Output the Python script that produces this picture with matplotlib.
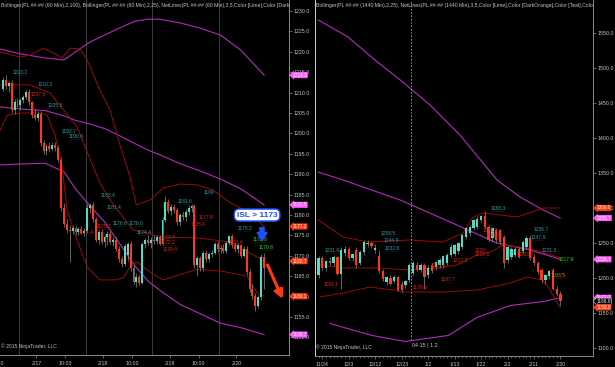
import numpy as np
import matplotlib
matplotlib.use('Agg')
import matplotlib.pyplot as plt
from matplotlib import transforms

plt.rcParams['font.family'] = ['Liberation Sans', 'DejaVu Sans']

# ---- 60 min bars (left panel) ----
h_open = [1211.0, 1213.2, 1211.6, 1212.4, 1205.8, 1207.8, 1207.0, 1208.2, 1209.0, 1210.2,
          1207.6, 1204.4, 1203.8, 1204.8, 1197.6, 1195.6, 1197.0, 1196.2, 1197.2, 1196.4,
          1193.6, 1181.8, 1177.8, 1176.4, 1176.0, 1176.8, 1175.8, 1176.6, 1175.6, 1176.2,
          1181.8, 1182.4, 1179.0, 1174.0, 1175.8, 1173.4, 1174.6, 1175.4, 1173.4, 1174.0,
          1171.8, 1169.2, 1168.0, 1170.2, 1172.8, 1167.0, 1163.6, 1164.8, 1163.4, 1172.8,
          1173.8, 1173.2, 1174.0, 1173.6, 1174.6, 1173.0, 1178.8, 1183.2, 1181.0, 1182.0,
          1181.2, 1178.2, 1180.0, 1179.4, 1180.8, 1181.8, 1182.2, 1167.8, 1169.4, 1167.0,
          1170.6, 1169.2, 1170.4, 1170.8, 1172.8, 1171.6, 1172.0, 1171.2, 1173.2, 1174.8,
          1172.6, 1171.6, 1172.6, 1170.0, 1171.8, 1166.0, 1161.8, 1160.2, 1157.8, 1159.8,
          1169.8]
h_high = [1213.8, 1214.2, 1212.8, 1213.0, 1208.4, 1208.6, 1208.8, 1209.4, 1210.6, 1210.8,
          1208.0, 1206.0, 1205.4, 1205.6, 1198.4, 1197.4, 1197.8, 1197.8, 1198.0, 1197.2,
          1194.2, 1183.0, 1179.0, 1177.6, 1177.4, 1177.2, 1177.0, 1177.4, 1176.8, 1182.6,
          1183.0, 1183.2, 1179.6, 1176.4, 1176.6, 1175.2, 1176.0, 1176.0, 1174.6, 1174.6,
          1172.4, 1170.0, 1173.0, 1173.4, 1173.6, 1167.8, 1165.8, 1165.6, 1173.4, 1174.4,
          1175.0, 1174.6, 1175.2, 1175.0, 1175.0, 1179.4, 1184.6, 1184.0, 1182.6, 1182.8,
          1181.8, 1180.6, 1181.0, 1181.4, 1182.4, 1182.6, 1182.6, 1170.0, 1170.0, 1171.2,
          1171.4, 1171.0, 1171.4, 1173.4, 1173.6, 1172.6, 1172.8, 1173.6, 1175.2, 1175.4,
          1173.4, 1173.2, 1173.0, 1172.4, 1172.4, 1166.8, 1163.0, 1161.0, 1160.4, 1170.4,
          1170.6]
h_low = [1210.4, 1211.0, 1210.2, 1205.0, 1204.8, 1206.6, 1205.8, 1207.4, 1208.4, 1207.0,
         1203.8, 1203.2, 1203.0, 1196.8, 1195.0, 1194.8, 1195.4, 1195.6, 1195.8, 1193.0,
         1181.0, 1177.0, 1175.6, 1168.5, 1175.4, 1175.2, 1175.0, 1175.4, 1174.8, 1175.8,
         1180.4, 1178.4, 1173.4, 1173.0, 1172.8, 1172.2, 1172.6, 1172.8, 1172.4, 1171.2,
         1168.6, 1167.2, 1167.4, 1168.8, 1166.4, 1163.0, 1162.4, 1162.8, 1163.0, 1172.0,
         1172.6, 1172.0, 1173.0, 1172.8, 1172.6, 1172.6, 1178.2, 1180.4, 1180.0, 1180.6,
         1177.6, 1177.4, 1178.8, 1178.6, 1180.0, 1180.8, 1167.0, 1165.0, 1166.4, 1166.2,
         1168.6, 1168.4, 1169.6, 1170.4, 1171.0, 1170.6, 1170.8, 1170.8, 1172.6, 1172.0,
         1171.0, 1170.8, 1169.4, 1169.6, 1165.4, 1161.2, 1159.4, 1156.6, 1157.2, 1159.2,
         1161.8]
h_close = [1213.2, 1211.6, 1212.4, 1205.8, 1207.8, 1207.0, 1208.2, 1209.0, 1210.2, 1207.6,
           1204.4, 1203.8, 1204.8, 1197.6, 1195.6, 1197.0, 1196.2, 1197.2, 1196.4, 1193.6,
           1181.8, 1177.8, 1176.4, 1176.0, 1176.8, 1175.8, 1176.6, 1175.6, 1176.2, 1181.8,
           1182.4, 1179.0, 1174.0, 1175.8, 1173.4, 1174.6, 1175.4, 1173.4, 1174.0, 1171.8,
           1169.2, 1168.0, 1172.4, 1172.8, 1167.0, 1163.6, 1164.8, 1163.4, 1172.8, 1173.8,
           1173.2, 1174.0, 1173.6, 1174.6, 1173.0, 1178.8, 1183.2, 1181.0, 1182.0, 1181.2,
           1178.2, 1180.0, 1179.4, 1180.8, 1181.8, 1182.2, 1167.8, 1169.4, 1167.0, 1170.6,
           1169.2, 1170.4, 1170.8, 1172.8, 1171.6, 1172.0, 1171.2, 1173.2, 1174.8, 1172.6,
           1171.6, 1172.6, 1170.0, 1171.8, 1166.0, 1161.8, 1160.2, 1157.8, 1159.8, 1169.8,
           1167.0]

# bollinger (60 min), (bar index, value)
bb100_x = [-1, 6, 14.5, 21, 25, 30, 35, 40, 45.5, 50, 54, 61, 68, 75, 82, 90]
bb100_up = [1220.7, 1219.5, 1218.5, 1218.0, 1220.0, 1222.4, 1224.1, 1225.8, 1227.5, 1228.0,
            1228.0, 1227.1, 1225.8, 1224.1, 1220.4, 1214.3]
bb100_mid = [1206.5, 1206.0, 1205.6, 1204.3, 1203.2, 1202.3, 1201.2, 1199.5, 1197.5, 1195.9,
             1194.8, 1192.6, 1190.8, 1188.8, 1186.4, 1182.5]
bb100_lo = [1192.3, 1192.5, 1192.7, 1190.6, 1186.4, 1182.2, 1178.3, 1173.2, 1167.5, 1163.8,
            1161.6, 1158.1, 1155.8, 1153.5, 1152.4, 1150.7]

bb25_up_x = [-1, 5.9, 9.3, 13.8, 17.9, 20.3, 23.1, 26.6, 29, 33.4, 36.9, 40.3, 43.8, 45.9,
             50.7, 55.2, 61, 66.9, 72.4, 78.3, 85.2, 90]
bb25_up = [1220.0, 1218.7, 1219.2, 1220.9, 1219.5, 1218.5, 1220.9, 1220.7, 1218.0, 1210.6,
           1205.7, 1197.2, 1189.3, 1182.5, 1183.7, 1186.6, 1187.6, 1187.4, 1186.1, 1183.0,
           1180.5, 1177.2]
bb25_mid_x = [-1, 9.3, 16.2, 25.5, 33.4, 36.9, 44.8, 55.2, 66.9, 78.3, 90]
bb25_mid = [1211.9, 1211.9, 1209.9, 1201.6, 1187.8, 1183.7, 1176.3, 1174.6, 1174.4, 1173.4, 1168.7]
bb25_lo_x = [-1, 1.4, 5.9, 12.8, 15.2, 17.9, 20.3, 22.1, 25.5, 29, 33.4, 38.6, 41.4, 43.8,
             46.2, 50.7, 55.2, 61, 66.9, 75.8, 84.1, 87.6, 90]
bb25_lo = [1200.8, 1204.5, 1205.0, 1205.0, 1204.5, 1199.6, 1192.3, 1181.2, 1173.9, 1167.3,
           1164.1, 1164.1, 1164.6, 1167.3, 1168.5, 1166.0, 1164.1, 1165.4, 1166.7, 1166.2,
           1165.0, 1160.9, 1160.1]

h_sessions = [5.5, 28.5, 51.5, 74.5]
h_tick_pos = [11.5, 21.5, 34.5, 44.5, 57.5, 67.5, 80.5]
h_tick_lbl = ['2/17', '10:00', '2/18', '10:00', '2/19', '10:00', '2/20']

h_lbl_x = [5.9, 14.5, 12.1, 17.9, 22.8, 25.2, 36.2, 38.3, 28.6, 40.5, 46.0, 34.8, 71, 62.8,
           70, 67.2, 48.6, 56.9, 56.9, 57.6, 83.4, 80.3, 88.6, 90.7]
h_lbl_y = [1214.3, 1211.4, 1208.9, 1206.2, 1199.9, 1198.6, 1184.2, 1181.2, 1175.1, 1177.3,
           1177.3, 1176.6, 1184.9, 1182.7, 1178.8, 1177.1, 1175.1, 1173.9, 1172.6, 1170.9,
           1176.1, 1172.6, 1173.4, 1171.4]
h_lbl_txt = ['1213.2', '1210.2', '1207.5', '1205.5', '1192.7', '1190.6', '1183.4', '1181.4',
             '1174.4', '1176.6', '1178.0', '1175.2', '1184', '1181.6', '1177.8', '1175.4',
             '1174.4', '1173.4', '1172.2', '1170.4', '1175.2', '1171.6', '1172.8', '1170.8']
h_lbl_col = ['t', 't', 'r', 't', 't', 't', 't', 't', 'r', 't', 't', 'r', 't', 't', 'r', 'r',
             't', 'r', 'r', 'r', 't', 'r', 'g', 'g']

h_tags = [1214.3, 1182.5, 1150.7, 1177.2, 1168.7, 1160.1]
h_tag_col = ['m', 'm', 'm', 'r', 'r', 'r']

# ---- daily bars (right panel) ----
d_open = [1205, 1228, 1215, 1224, 1221, 1230, 1206, 1236, 1241, 1229, 1240, 1222, 1237, 1248,
          1250, 1240, 1232, 1210, 1195, 1200, 1196, 1201, 1192, 1190, 1197, 1207, 1219, 1212,
          1219, 1204, 1219, 1216, 1219, 1219, 1221, 1233, 1235, 1238, 1245, 1259, 1264, 1271,
          1273, 1283, 1288, 1273, 1257, 1268, 1268, 1259, 1226, 1230, 1233, 1242, 1238, 1245,
          1257, 1230, 1221, 1211, 1197, 1203, 1212, 1185, 1177]
d_high = [1231, 1232, 1226, 1230, 1233, 1232, 1244, 1246, 1244, 1236, 1245, 1240, 1254, 1254,
          1253, 1248, 1240, 1213, 1203, 1204, 1205, 1203, 1196, 1197, 1222, 1224, 1223, 1222,
          1222, 1218, 1222, 1225, 1229, 1233, 1236, 1248, 1249, 1252, 1264, 1273, 1276, 1285,
          1288, 1290, 1295, 1276, 1273, 1272, 1270, 1262, 1247, 1245, 1244, 1245, 1255, 1260,
          1262, 1234, 1224, 1214, 1206, 1212, 1215, 1188, 1181]
d_low = [1200, 1212, 1210, 1218, 1217, 1204, 1185, 1232, 1226, 1224, 1214, 1218, 1233, 1244,
         1243, 1236, 1207, 1196, 1190, 1190, 1193, 1181, 1180, 1186, 1195, 1204, 1210, 1208,
         1185, 1200, 1207, 1212, 1215, 1215, 1218, 1230, 1232, 1235, 1242, 1256, 1260, 1268,
         1270, 1280, 1270, 1253, 1252, 1250, 1248, 1214, 1222, 1227, 1230, 1228, 1235, 1242,
         1226, 1218, 1206, 1193, 1192, 1199, 1183, 1174, 1160]
d_close = [1228, 1215, 1224, 1221, 1230, 1206, 1240, 1241, 1229, 1234, 1218, 1237, 1251, 1250,
           1246, 1243, 1210, 1198, 1201, 1192, 1202, 1183, 1183, 1196, 1219, 1221, 1213, 1219,
           1202, 1215, 1210, 1223, 1226, 1231, 1233, 1245, 1247, 1250, 1261, 1271, 1273, 1283,
           1285, 1288, 1273, 1254, 1271, 1254, 1252, 1221, 1245, 1242, 1242, 1230, 1252, 1257,
           1228, 1221, 1209, 1197, 1205, 1210, 1185, 1177, 1167]

d_bbm_up_x = [-0.1, 7.8, 14.9, 21.6, 29.5, 37.4, 47.2, 53.3, 59.4, 63.9]
d_bbm_up = [1568.6, 1544.3, 1511.4, 1482.9, 1447.1, 1404.3, 1340.0, 1315.7, 1297.1, 1285.7]
d_bbm_mid_x = [-0.1, 6.5, 21.6, 34.8, 47.2, 56, 63.9]
d_bbm_mid = [1351.4, 1340.0, 1311.4, 1280.0, 1250.0, 1240.0, 1226.7]
d_bbm_lo_x = [3, 14.2, 22.9, 34.3, 41.9, 50.7, 59.4, 63.9]
d_bbm_lo = [1135.0, 1117.9, 1109.3, 1117.9, 1143.6, 1160.7, 1166.4, 1171.7]

d_bbr_up_x = [-0.1, 6.5, 13.1, 24.2, 32.9, 38.2, 40.9, 43.5, 52.5, 59.4, 63.9]
d_bbr_up = [1282.9, 1258.6, 1251.4, 1254.3, 1251.4, 1264.3, 1287.1, 1292.9, 1287.1, 1300.0, 1300.0]
d_bbr_mid_x = [0.4, 6.5, 15.5, 24.2, 31.3, 36.6, 41.9, 45.4, 48.8, 55.2, 63.9]
d_bbr_mid = [1218.6, 1214.3, 1214.3, 1211.4, 1214.3, 1218.6, 1232.9, 1237.1, 1247.1, 1242.9, 1229.0]
d_bbr_lo_x = [0.4, 6.5, 13.6, 19.7, 22.4, 32.9, 41.9, 50.7, 55.2, 59.4, 61.2, 63.9]
d_bbr_lo = [1172.9, 1178.6, 1187.1, 1182.9, 1180.0, 1180.0, 1182.9, 1192.9, 1201.4, 1197.1,
            1182.9, 1158.0]

d_tick_pos = [1, 8, 15, 22, 29, 36, 43, 50, 57, 64]
d_tick_lbl = ['11/24', '12/3', '12/12', '12/23', '1/2', '1/13', '1/22', '2/2', '2/11', '2/20']

d_lbl_x = [3.6, 18.4, 19.4, 19.4, 3.3, 26.8, 34.3, 31.6, 37.4, 42.7, 43.3, 47.5, 45.4, 46.2,
           58.9, 58.1, 61, 54.8, 65.6, 63.4]
d_lbl_y = [1235.7, 1260.0, 1250.0, 1238.6, 1187.1, 1182.9, 1194.3, 1214.3, 1221.4, 1235.7,
           1230.0, 1295.7, 1264.3, 1257.0, 1265.7, 1254.3, 1235.7, 1230.0, 1222.9, 1200.0]
d_lbl_txt = ['1231.6', '1258.5', '1244.9', '1232.8', '1181.1', '1179.5', '1187.7', '1206.6',
             '1212.3', '1220', '1222.6', '1288.3', '1246.1', '1243.1', '1256.7', '1247.8',
             '1221.3', '1223.2', '1217.9', '1193.5']
d_lbl_col = ['t', 't', 't', 't', 'r', 'r', 'r', 'r', 'r', 'r', 'r', 't', 'r', 'r', 't', 't',
             't', 'r', 'g', 'o']

d_tags = [1300.0, 1285.7, 1226.7, 1171.7, 1166.9, 1158.0]
d_tag_col = ['r', 'm', 'm', 'm', 'k', 'r']

UP = '#52dcc8'
DOWN = '#ff3a10'
WICK = '#8a8a8a'
MAG = '#b02cb8'
DRED = '#9a0a0a'
GRID = '#8a8a8a'
TXT = '#c4c4c4'
lbl_colors = {'t': '#2f9fa0', 'r': '#d0281a', 'g': '#2ccf2c', 'o': '#e08a10'}
tag_colors = {'m': '#ff5cff', 'r': '#ff3a10', 'k': '#000000'}


def candles(ax, o, h, l, c, w):
    x = np.arange(len(o))
    o, h, l, c = map(np.array, (o, h, l, c))
    up = c >= o
    ax.vlines(x, l, h, color=WICK, lw=0.5, zorder=2)
    body = np.maximum(np.abs(c - o), 0.0001)
    ax.bar(x[up], body[up], bottom=np.minimum(o, c)[up], width=w, color=UP, lw=0, zorder=3)
    ax.bar(x[~up], body[~up], bottom=np.minimum(o, c)[~up], width=w, color=DOWN, lw=0, zorder=3)


def net_labels(ax, xs, ys, txts, cols):
    for x, y, t, c in zip(xs, ys, txts, cols):
        ax.text(x, y, t, fontsize=3.6, color=lbl_colors[c], ha='center', va='bottom', zorder=5)
        ax.annotate('.' * (len(t) * 2), xy=(x, y), xytext=(0, -1.6), textcoords='offset points',
                    fontsize=3.0, color=lbl_colors[c], ha='center', va='bottom', zorder=5)


def tags(ax, vals, cols):
    tr = transforms.blended_transform_factory(ax.transAxes, ax.transData)
    for v, c in zip(vals, cols):
        ec = '#e0e0e0' if c == 'k' else 'none'
        ax.text(1.012, v, '%.1f' % v, transform=tr, fontsize=3.4,
                color='#f0f0f0', ha='left', va='center', clip_on=False, zorder=10,
                bbox=dict(boxstyle='larrow,pad=0.12', fc=tag_colors[c], ec=ec, lw=0.4))


def style(ax):
    ax.set_facecolor('black')
    ax.yaxis.tick_right()
    ax.tick_params(axis='y', colors=GRID, labelcolor=TXT, labelsize=3.8, length=2.5,
                   width=0.5, pad=1)
    ax.tick_params(axis='x', colors=GRID, labelcolor=TXT, labelsize=3.8, length=2.5,
                   width=0.5, pad=1.5)
    for s in ax.spines.values():
        s.set_color(GRID)
        s.set_linewidth(0.7)
    ax.spines['top'].set_visible(False)
    ax.yaxis.set_major_formatter(matplotlib.ticker.FormatStrFormatter('%.1f'))


fig = plt.figure(figsize=(6.15, 3.67), dpi=100, facecolor='black')

# ---------- left: 60 min ----------
ax1 = fig.add_axes([0, 12 / 367, 289 / 615, 355 / 367])
style(ax1)
ax1.spines['left'].set_visible(False)
ax1.set_xlim(-1.03, 98.6)
ax1.set_ylim(1145.7, 1232.7)
ax1.set_yticks(np.arange(1150, 1231, 5))
ax1.set_xticks(h_tick_pos)
ax1.set_xticklabels(h_tick_lbl)
for s in h_sessions:
    ax1.axvline(s, color='#3c3c3c', lw=0.7, zorder=1)

ax1.plot(bb100_x, bb100_up, color=MAG, lw=0.8, zorder=2)
ax1.plot(bb100_x, bb100_mid, color=MAG, lw=0.8, zorder=2)
ax1.plot(bb100_x, bb100_lo, color=MAG, lw=0.8, zorder=2)
ax1.plot(bb25_up_x, bb25_up, color=DRED, lw=0.7, zorder=2)
ax1.plot(bb25_mid_x, bb25_mid, color=DRED, lw=0.7, zorder=2)
ax1.plot(bb25_lo_x, bb25_lo, color=DRED, lw=0.7, zorder=2)

candles(ax1, h_open, h_high, h_low, h_close, 0.66)
net_labels(ax1, h_lbl_x, h_lbl_y, h_lbl_txt, h_lbl_col)
tags(ax1, h_tags, h_tag_col)

# the first session label, half outside the chart
xtr = transforms.blended_transform_factory(ax1.transData, ax1.transAxes)
ax1.annotate('10:00', xy=(-1.8, 0), xycoords=xtr, xytext=(0, -4.2),
             textcoords='offset points', fontsize=3.8, color=TXT, ha='center', va='top',
             annotation_clip=False)
ax1.text(0.004, 0.985, 'Bollinger(PL ##-## (60 Min),2,100), Bollinger(PL ##-## (60 Min),2,25), '
         'NetLines(PL ##-## (60 Min),3,5,Color [Lime],Color [DarkOrange]',
         transform=ax1.transAxes, fontsize=3.7, color=TXT, va='center', clip_on=True)
ax1.text(0.004, 0.018, '\u00a9 2015 NinjaTrader, LLC', transform=ax1.transAxes,
         fontsize=3.6, color=TXT, va='bottom')

ax1.text(87.6, 1180.0, 'ISL > 1173', fontsize=6.0, color='#1f4fff', weight='bold',
         ha='center', va='center', zorder=12,
         bbox=dict(boxstyle='round,pad=0.3,rounding_size=0.6', fc='white', ec='#1f4fff', lw=1.1))
ax1.annotate('', xy=(89.3, 1173.0), xytext=(89.3, 1177.6), zorder=12,
             arrowprops=dict(arrowstyle='simple,head_width=0.7,head_length=0.6,tail_width=0.3',
                             color='#1f4fff'))
ax1.annotate('', xy=(96.8, 1158.8), xytext=(90.8, 1168.4), zorder=12, annotation_clip=False,
             arrowprops=dict(arrowstyle='-|>,head_width=0.25,head_length=0.5', color='#ff3a10',
                             lw=2.2))

# ---------- right: daily ----------
ax2 = fig.add_axes([315 / 615, 11 / 367, 278 / 615, 356 / 367])
style(ax2)
ax2.spines['left'].set_color('#d0d0d0')
ax2.set_xlim(-0.93, 72.6)
ax2.set_ylim(1088.6, 1597.1)
ax2.set_yticks(np.arange(1100, 1551, 50))
ax2.set_xticks(d_tick_pos)
ax2.set_xticklabels(d_tick_lbl)
ax2.set_xticks(np.arange(0, 65), minor=True)
ax2.tick_params(axis='x', which='minor', colors=GRID, length=1.5, width=0.4)

ax2.plot(d_bbm_up_x, d_bbm_up, color=MAG, lw=0.8, zorder=2)
ax2.plot(d_bbm_mid_x, d_bbm_mid, color=MAG, lw=0.8, zorder=2)
ax2.plot(d_bbm_lo_x, d_bbm_lo, color=MAG, lw=0.8, zorder=2)
ax2.plot(d_bbr_up_x, d_bbr_up, color=DRED, lw=0.7, zorder=2)
ax2.plot(d_bbr_mid_x, d_bbr_mid, color=DRED, lw=0.7, zorder=2)
ax2.plot(d_bbr_lo_x, d_bbr_lo, color=DRED, lw=0.7, zorder=2)

candles(ax2, d_open, d_high, d_low, d_close, 0.62)
net_labels(ax2, d_lbl_x, d_lbl_y, d_lbl_txt, d_lbl_col)
tags(ax2, d_tags, d_tag_col)

ax2.vlines(24.5, 1111.0, 1597.1, color='#a8a8a8', lw=0.6, linestyles=(0, (2, 2)), zorder=4)
ax2.text(24.6, 1104.0, '04-15 | 1.2', fontsize=3.8, color=TXT, ha='left', va='center')
ax2.text(0.004, 0.985, 'Bollinger(PL ##-## (1440 Min),2,25), NetLines(PL ##-## (1440 Min),3,5,'
         'Color [Lime],Color [DarkOrange],Color [Teal],Color [Red]',
         transform=ax2.transAxes, fontsize=3.7, color=TXT, va='center', clip_on=True)
ax2.text(0.004, 0.018, '\u00a9 2015 NinjaTrader, LLC', transform=ax2.transAxes,
         fontsize=3.6, color=TXT, va='bottom')

fig.savefig('out.png', dpi=100, facecolor='black')
